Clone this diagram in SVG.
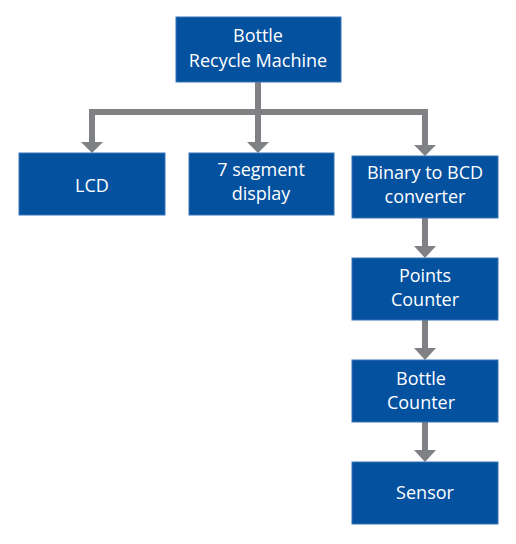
<svg xmlns="http://www.w3.org/2000/svg" width="516" height="544" viewBox="0 0 516 544">
<defs>
<style>
.box{fill:#0451a0;stroke:#3a73b5;stroke-width:1}
.t{font-family:"Open Sans","Noto Sans",sans-serif;font-size:18px;fill:#ffffff;text-anchor:middle}
.ln{stroke:#808184;stroke-width:6;fill:none}
.ah{fill:#808184}
</style>
</defs>
<rect width="516" height="544" fill="#ffffff"/>
<g id="connectors">
<path class="ln" d="M258,82 V112 M92,112 H425 M92,109 V143 M258,112 V143 M425,109 V146"/>
<polygon class="ah" points="81,142 103,142 92,153"/>
<polygon class="ah" points="247,142 269,142 258,153"/>
<polygon class="ah" points="414,145 436,145 425,156"/>
<path class="ln" d="M425,218 V247 M425,320 V349 M425,422 V451"/>
<polygon class="ah" points="414,246 436,246 425,258"/>
<polygon class="ah" points="414,348 436,348 425,360"/>
<polygon class="ah" points="414,450 436,450 425,462"/>
</g>
<g id="root">
<rect class="box" x="176" y="17" width="165" height="65"/>
<text class="t" x="258" y="42">Bottle</text>
<text class="t" x="258" y="67">Recycle Machine</text>
</g>
<g id="lcd">
<rect class="box" x="19" y="153" width="146" height="62"/>
<text class="t" x="92" y="192">LCD</text>
</g>
<g id="seg">
<rect class="box" x="189" y="153" width="145" height="62"/>
<text class="t" x="261" y="176">7 segment</text>
<text class="t" x="261" y="200">display</text>
</g>
<g id="bcd">
<rect class="box" x="352" y="156" width="146" height="62"/>
<text class="t" x="425" y="179">Binary to BCD</text>
<text class="t" x="425" y="203">converter</text>
</g>
<g id="points">
<rect class="box" x="352" y="258" width="146" height="62"/>
<text class="t" x="425" y="282">Points</text>
<text class="t" x="425" y="306">Counter</text>
</g>
<g id="bottle">
<rect class="box" x="352" y="360" width="146" height="62"/>
<text class="t" x="421" y="385">Bottle</text>
<text class="t" x="421" y="409">Counter</text>
</g>
<g id="sensor">
<rect class="box" x="352" y="462" width="146" height="62"/>
<text class="t" x="425" y="499">Sensor</text>
</g>
</svg>
